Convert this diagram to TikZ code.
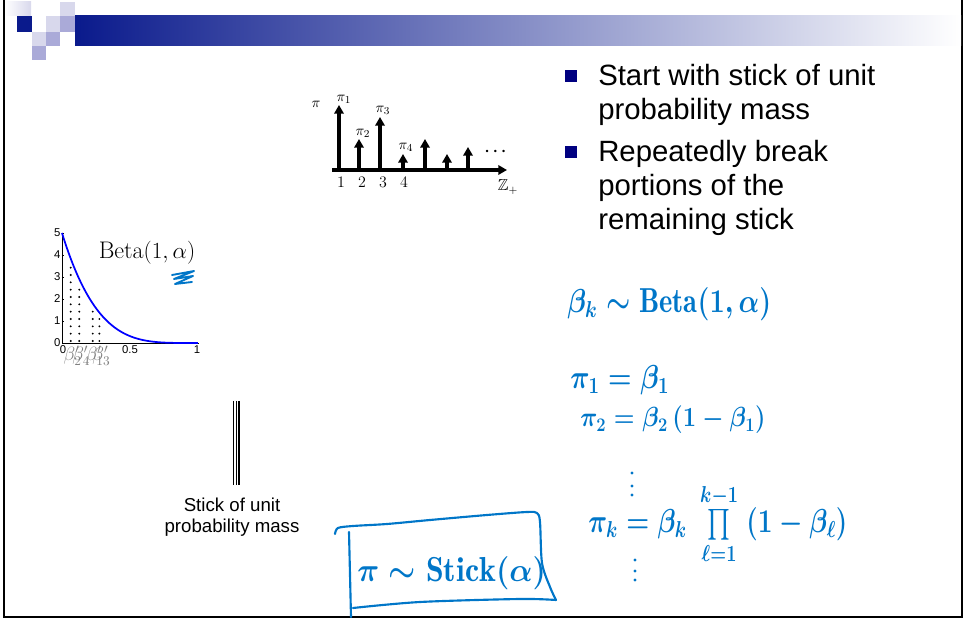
\documentclass[tikz,border=0pt]{standalone}
\usepackage{amsmath,amssymb}
\usepackage{fontspec}
\newfontfamily\arial{Liberation Sans}
\usetikzlibrary{positioning,arrows.meta}
\definecolor{inkblue}{RGB}{0,118,200}
\definecolor{navy}{RGB}{10,26,140}
\definecolor{bulletnavy}{RGB}{0,0,128}
\definecolor{lilac}{RGB}{216,216,236}
\definecolor{lilacmid}{RGB}{170,170,216}
\newcommand{\squeeze}[2]{\scalebox{#1}[1]{#2}}

\begin{document}
\begin{tikzpicture}[x=0.75pt,y=-0.75pt,
  spike/.style={-{Triangle[length=6.5pt,width=7pt]},line width=2.3pt},
  ink/.style={draw=inkblue,line width=1.6pt,line cap=round,line join=round},
  hand/.style={text=inkblue,inner sep=0pt,anchor=base west},
  bulletline/.style={anchor=base west,inner sep=0pt,font=\arial\fontsize{22}{26}\selectfont},
  bulletbox/.style={fill=bulletnavy,minimum size=9pt,inner sep=0pt},
  tick/.style={font=\arial\fontsize{8.5}{9}\selectfont,inner sep=1pt},
  plab/.style={font=\fontsize{11}{13}\selectfont,inner sep=0pt},
  dots/.style={line width=1.6pt,line cap=round,dash pattern=on 0pt off 5.5pt}]
\useasboundingbox (0,0) rectangle (965,623);

% slide frame and title bar
\draw[line width=1.5pt] (4,0) -- (4,617.5) -- (962,617.5) -- (962,0);
\shade[left color=navy,right color=white] (75,16) rectangle (961,46);
\shade[left color=white,right color=lilac] (5,2) rectangle (31,16);
\fill[navy] (17,16) rectangle (32,32);
\fill[lilac] (46,16) rectangle (60,32);
\fill[lilac] (60,2) rectangle (75,16);
\fill[lilacmid] (60,16) rectangle (75,32);
\fill[lilac] (32,32) rectangle (46,46);
\fill[lilacmid] (46,32) rectangle (60,46);
\fill[lilacmid] (32,46) rectangle (46,60);

% bullets
\node[bulletbox] (bx1) at (571,76) {};
\node[bulletline] (t1) at (598,86) {Start with stick of unit};
\node[bulletline] (t2) at (598,120) {probability mass};
\node[bulletbox] (bx2) at (571,152) {};
\node[bulletline] (t3) at (598,162) {Repeatedly break};
\node[bulletline] (t4) at (598,196) {portions of the};
\node[bulletline] (t5) at (598,230) {remaining stick};

% weights on the positive integers
\draw[spike] (332,170) -- (507,170);
\foreach \x/\tip in {339/105,359/139,380/117,403/154,425/139,447/154,468/147}
  \draw[spike] (\x,171) -- (\x,\tip);
\node[plab] (pi) at (316,104) {$\pi$};
\node[plab] (p1) at (344,99) {$\pi_1$};
\node[plab] (p2) at (363,133) {$\pi_2$};
\node[plab] (p3) at (383,110) {$\pi_3$};
\node[plab] (p4) at (406,147) {$\pi_4$};
\foreach \x [count=\i] in {341,362,383,404}
  \node[plab,font=\fontsize{12}{14}\selectfont] (n\i) at (\x,182) {\i};
\node[font=\fontsize{13}{15}\selectfont\boldmath] (cdots) at (497,152) {$\cdots$};
\node[plab,font=\fontsize{12}{14}\selectfont] (zplus) at (508,187) {$\mathbb{Z}_+$};

% Beta(1,alpha) density
\draw[line width=0.6pt] (62,233) -- (62,343) -- (199,343);
\foreach \k in {0,...,5} {
  \draw[line width=0.5pt] (62,{343-22*\k}) -- (64,{343-22*\k});
  \node[tick,anchor=east] (y\k) at (62,{343-22*\k}) {\k};
}
\node[tick] (x0) at (63,350) {0};
\node[tick] (x05) at (130,350) {0.5};
\node[tick] (x1) at (197,350) {1};
\draw[blue,line width=1.3pt,domain=0:1,samples=80] plot ({62+136*\x},{343-110*(1-\x)^4});
\foreach \t in {0.064,0.127,0.226,0.275}
  \draw[dots] ({62+136*\t},341) -- ({62+136*\t},{343-110*(1-\t)^4+4});
\foreach \t/\k in {0.064/2,0.127/4,0.226/1,0.275/3}
  \node[gray,font=\fontsize{14}{16}\selectfont,inner sep=0pt] (b\k) at ({64+136*\t},356) {$\beta'_{\k}$};
\node[font=\fontsize{18}{21}\selectfont] (beta) at (147,253) {$\mathrm{Beta}(1,\alpha)$};
\draw[ink,line width=1.4pt] (172,275) -- (194,271) -- (174,279) -- (193,276) -- (175,284) -- (192,282);

% unit stick
\draw[line width=1.1pt] (233.5,401) -- (233.5,485);
\draw[line width=0.8pt] (236.6,401) -- (236.6,485);
\draw[line width=1.3pt] (239.3,401) -- (239.3,485);
\node[anchor=base,inner sep=0pt,font=\arial\fontsize{14}{16}\selectfont] (s1) at (232,512) {Stick of unit};
\node[anchor=base,inner sep=0pt,font=\arial\fontsize{14}{16}\selectfont] (s2) at (232,533) {probability mass};

% handwritten construction
\node[hand,font=\fontsize{26}{30}\selectfont\boldmath] (h1) at (567,313) {\squeeze{0.82}{$\beta_k \sim \mathrm{Beta}(1,\alpha)$}};
\node[hand,font=\fontsize{24}{28}\selectfont\boldmath] (h2) at (570,389) {\squeeze{0.81}{$\pi_1 = \beta_1$}};
\node[hand,font=\fontsize{22}{26}\selectfont\boldmath] (h3) at (580,427) {\squeeze{0.86}{$\pi_2 = \beta_2\,(1-\beta_1)$}};
\node[hand,font=\fontsize{23}{28}\selectfont\boldmath] (h4) at (588,533) {\squeeze{0.79}{$\pi_k = \beta_k\; \prod\limits_{\ell=1}^{k-1}\; (1-\beta_\ell)$}};
\foreach \y in {473,486,495} \fill[inkblue] (632,\y) circle (1.7);
\foreach \y in {560,571,580} \fill[inkblue] (635,\y) circle (1.7);

% boxed result
\node[hand,font=\fontsize{26}{30}\selectfont\boldmath] (h5) at (357,582) {\squeeze{0.92}{$\pi \sim \mathrm{Stick}(\alpha)$}};
\draw[ink] plot[smooth] coordinates {(335,534) (338,528) (353,526) (387,524) (430,520) (487,515) (527,512) (537,513) (540,522) (542,563) (550,587) (556,600)};
\draw[ink] plot[smooth] coordinates {(556,600) (520,599) (420,602) (353,608)};
\draw[ink] (349,532) -- (351,617);
\end{tikzpicture}
\end{document}
